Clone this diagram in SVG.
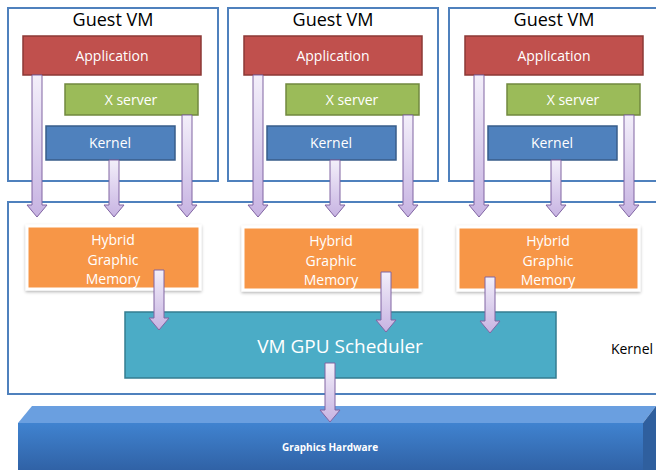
<svg xmlns="http://www.w3.org/2000/svg" width="656" height="470" viewBox="0 0 656 470">
<defs>
<linearGradient id="arrowGrad" x1="0" y1="0" x2="0" y2="1">
<stop offset="0" stop-color="#f3effa"/>
<stop offset="1" stop-color="#c7b3e2"/>
</linearGradient>
<linearGradient id="hwFront" x1="0" y1="0" x2="0" y2="1">
<stop offset="0" stop-color="#4083d0"/>
<stop offset="1" stop-color="#3062a6"/>
</linearGradient>
<filter id="shadow" x="-10%" y="-10%" width="120%" height="130%">
<feDropShadow dx="0" dy="1.5" stdDeviation="1.5" flood-color="#000" flood-opacity="0.3"/>
</filter>
</defs>
<style>
.frame{fill:#fff;stroke:#4f81bd;stroke-width:2}
.app{fill:#c0504d;stroke:#8c3836;stroke-width:1.5}
.xs{fill:#9bbb59;stroke:#71893f;stroke-width:1.5}
.kern{fill:#4f81bd;stroke:#385d8a;stroke-width:1.5}
.hgm{fill:#f79646;stroke:#fff;stroke-width:3;filter:url(#shadow)}
.sched{fill:#4bacc6;stroke:#357d91;stroke-width:1.5}
.arrow{fill:url(#arrowGrad);stroke:#8064a2;stroke-width:1}
text{font-family:"Open Sans","Noto Sans",sans-serif;text-anchor:middle}
.title{font-size:18px;fill:#000}
.wt{font-size:14px;fill:#fff}
.big{font-size:19px;fill:#fff}
.lbl{font-size:14px;fill:#000}
.hw{font-size:10px;fill:#fff;font-weight:bold}
</style>

<g id="kernel-host">
<rect class="frame" x="8" y="202" width="660" height="192"/>
<text class="lbl" x="632" y="354">Kernel</text>
</g>

<g id="vm1">
<rect class="frame" x="8" y="8" width="210" height="173"/>
<text class="title" x="113" y="26">Guest VM</text>
<g id="app1"><rect class="app" x="23" y="36" width="178" height="39"/><text class="wt" x="112" y="61">Application</text></g>
<g id="xs1"><rect class="xs" x="65" y="84" width="133" height="31"/><text class="wt" x="131" y="105">X server</text></g>
<g id="k1"><rect class="kern" x="46" y="126" width="129" height="34"/><text class="wt" x="110" y="148">Kernel</text></g>
</g>

<g id="vm2">
<rect class="frame" x="228" y="8" width="210" height="173"/>
<text class="title" x="333" y="26">Guest VM</text>
<g id="app2"><rect class="app" x="244" y="36" width="178" height="39"/><text class="wt" x="333" y="61">Application</text></g>
<g id="xs2"><rect class="xs" x="286" y="84" width="133" height="31"/><text class="wt" x="352" y="105">X server</text></g>
<g id="k2"><rect class="kern" x="267" y="126" width="129" height="34"/><text class="wt" x="331" y="148">Kernel</text></g>
</g>

<g id="vm3">
<rect class="frame" x="449" y="8" width="212" height="173"/>
<text class="title" x="554" y="26">Guest VM</text>
<g id="app3"><rect class="app" x="465" y="36" width="178" height="39"/><text class="wt" x="554" y="61">Application</text></g>
<g id="xs3"><rect class="xs" x="507" y="84" width="133" height="31"/><text class="wt" x="573" y="105">X server</text></g>
<g id="k3"><rect class="kern" x="488" y="126" width="129" height="34"/><text class="wt" x="552" y="148">Kernel</text></g>
</g>

<g id="hgm1">
<rect class="hgm" x="27" y="226" width="173" height="63"/>
<text class="wt" x="113" y="245">Hybrid</text>
<text class="wt" x="113" y="265">Graphic</text>
<text class="wt" x="113" y="284">Memory</text>
</g>
<g id="hgm2">
<rect class="hgm" x="243" y="227" width="177" height="63"/>
<text class="wt" x="331" y="246">Hybrid</text>
<text class="wt" x="331" y="266">Graphic</text>
<text class="wt" x="331" y="285">Memory</text>
</g>
<g id="hgm3">
<rect class="hgm" x="458" y="227" width="181" height="63"/>
<text class="wt" x="548" y="246">Hybrid</text>
<text class="wt" x="548" y="266">Graphic</text>
<text class="wt" x="548" y="285">Memory</text>
</g>

<g id="scheduler">
<rect class="sched" x="125" y="312" width="431" height="66"/>
<text class="big" x="340" y="353">VM GPU Scheduler</text>
</g>

<g id="hardware">
<polygon points="18,423 32,406 656,406 643,423" fill="#6a9fe0"/>
<rect x="18" y="423" width="625" height="47" fill="url(#hwFront)"/>
<polygon points="643,423 656,406 656,470 643,470" fill="#2f5f9e"/>
<text class="hw" x="330" y="451">Graphics Hardware</text>
</g>

<g id="connectors">
<path class="arrow" d="M32,75H42V205H47L37,217L27,205H32Z"/>
<path class="arrow" d="M109,160H119V205H124L114,217L104,205H109Z"/>
<path class="arrow" d="M182,115H192V205H197L187,217L177,205H182Z"/>
<path class="arrow" d="M253,75H263V205H268L258,217L248,205H253Z"/>
<path class="arrow" d="M330,160H340V205H345L335,217L325,205H330Z"/>
<path class="arrow" d="M403,115H413V205H418L408,217L398,205H403Z"/>
<path class="arrow" d="M474,75H484V205H489L479,217L469,205H474Z"/>
<path class="arrow" d="M551,160H561V205H566L556,217L546,205H551Z"/>
<path class="arrow" d="M624,115H634V205H639L629,217L619,205H624Z"/>
<path class="arrow" d="M154,270H164V318H169L159,330L149,318H154Z"/>
<path class="arrow" d="M381,272H391V320H396L386,332L376,320H381Z"/>
<path class="arrow" d="M485,277H495V321H500L490,333L480,321H485Z"/>
<path class="arrow" d="M325,363H335V410H340L330,422L320,410H325Z"/>
</g>
</svg>
